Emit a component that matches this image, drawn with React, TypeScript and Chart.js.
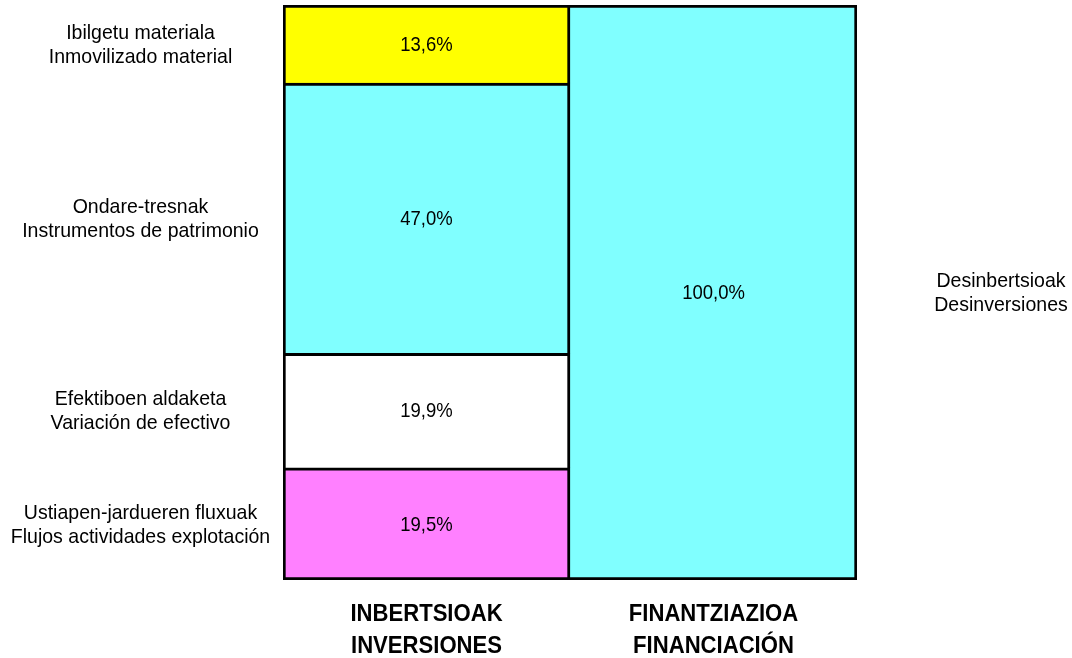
import React, { useEffect, useRef } from "react";
import { Chart, registerables } from "chart.js";

Chart.register(...registerables);

const categories = [
  ["INBERTSIOAK", "INVERSIONES"],
  ["FINANTZIAZIOA", "FINANCIACIÓN"],
];

const inversionLabels = [
  ["Ustiapen-jardueren fluxuak", "Flujos actividades explotación"],
  ["Efektiboen aldaketa", "Variación de efectivo"],
  ["Ondare-tresnak", "Instrumentos de patrimonio"],
  ["Ibilgetu materiala", "Inmovilizado material"],
];
const inversionValues = [19.5, 19.9, 47.0, 13.6];
const inversionColors = ["#FF80FF", "#FFFFFF", "#80FFFF", "#FFFF00"];

const financiacionLabels = [["Desinbertsioak", "Desinversiones"]];
const financiacionValues = [100.0];
const financiacionColors = ["#80FFFF"];

const FONT = '"Liberation Sans", Arial, sans-serif';

const fmt = (v: number) => v.toFixed(1).replace(".", ",") + "%";

function drawText(ctx: CanvasRenderingContext2D, t: string, x: number, y: number, sx: number) {
  ctx.save();
  ctx.translate(x, y);
  ctx.scale(sx, 1);
  ctx.fillText(t, 0, 0);
  ctx.restore();
}

const labelPlugin = {
  id: "segLabels",
  afterDatasetsDraw(chart: any) {
    const ctx = chart.ctx;
    const area = chart.chartArea;
    ctx.save();
    ctx.fillStyle = "#000";
    ctx.textAlign = "center";
    ctx.textBaseline = "middle";
    chart.data.datasets.forEach((ds: any, di: number) => {
      const meta = chart.getDatasetMeta(di);
      meta.data.forEach((el: any, i: number) => {
        const v = ds.data[i];
        if (v === null || v === undefined) return;
        const cy = (el.y + el.base) / 2 + 1;
        ctx.font = `21px ${FONT}`;
        drawText(ctx, fmt(v), el.x, cy, 0.88);
        const lines: string[] = ds.sideLabel;
        const sx = i === 0 ? area.left / 2 - 1 : area.right + 144;
        lines.forEach((t, li) => {
          drawText(ctx, t, sx, cy + (li - (lines.length - 1) / 2) * 24, 0.93);
        });
      });
    });
    const xs = chart.scales.x;
    ctx.font = `bold 23.5px ${FONT}`;
    categories.forEach((lines, i) => {
      const x = xs.getPixelForValue(i);
      lines.forEach((t, li) => {
        drawText(ctx, t, x, area.bottom + 35 + li * 32, 0.94);
      });
    });
    ctx.restore();
  },
};

export default function App() {
  const ref = useRef<HTMLCanvasElement | null>(null);
  useEffect(() => {
    if (!ref.current) return;
    const datasets: any[] = [];
    inversionValues.forEach((v, i) => {
      datasets.push({
        label: inversionLabels[i].join(" / "),
        sideLabel: inversionLabels[i],
        data: [v, null],
        backgroundColor: inversionColors[i],
        borderColor: "#000",
        borderWidth: { top: 3, left: 3, right: 3, bottom: i === 0 ? 3 : 0 },
        borderSkipped: false,
        categoryPercentage: 1,
        barPercentage: 1,
      });
    });
    financiacionValues.forEach((v, i) => {
      datasets.push({
        label: financiacionLabels[i].join(" / "),
        sideLabel: financiacionLabels[i],
        data: [null, v],
        backgroundColor: financiacionColors[i],
        borderColor: "#000",
        borderWidth: { top: 3, left: 0, right: 3, bottom: 3 },
        borderSkipped: false,
        categoryPercentage: 1,
        barPercentage: 1,
      });
    });
    const chart = new Chart(ref.current, {
      type: "bar",
      data: { labels: categories.map((c) => c.join(" ")), datasets },
      options: {
        responsive: false,
        animation: false,
        layout: { padding: { left: 283, right: 215, top: 5, bottom: 78 } },
        plugins: { legend: { display: false }, tooltip: { enabled: false } },
        scales: {
          x: { stacked: true, display: false },
          y: { stacked: true, display: false, min: 0, max: 100 },
        },
      },
      plugins: [labelPlugin],
    });
    return () => chart.destroy();
  }, []);
  return (
    <div style={{ position: "fixed", left: 0, top: 0, width: 1072, height: 658, background: "#fff" }}>
      <canvas ref={ref} width={1072} height={658} style={{ display: "block" }} />
    </div>
  );
}
